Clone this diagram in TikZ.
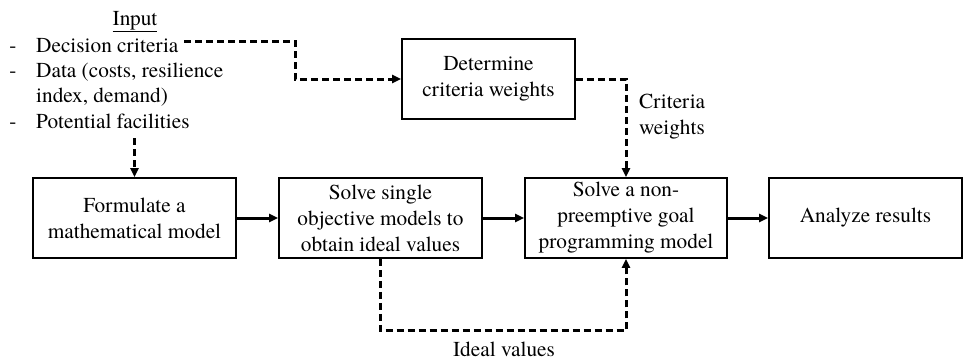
\documentclass[tikz,border=0pt]{standalone}
\usepackage{fontspec}
\setmainfont{TeX Gyre Termes}
\usetikzlibrary{arrows.meta}
\begin{document}
\begin{tikzpicture}[x=1pt,y=-1pt,
  font=\rmfamily\fontsize{21.3}{26}\selectfont,
  box/.style={draw,line width=1.6pt,align=center,minimum height=80pt,inner sep=2pt},
  sline/.style={line width=3pt,-{Triangle[length=9pt,width=8pt]}},
  dline/.style={line width=3pt,dash pattern=on 7pt off 4pt,-{Triangle[length=9pt,width=8pt]}},
  txt/.style={inner sep=0pt}]
\useasboundingbox (0,0) rectangle (963,360);
% input text
\node[txt,anchor=base] (inp) at (135,25) {\underline{Input}};
\node[txt,anchor=base] (d1) at (13,52) {-};
\node[txt,anchor=base west] (t1) at (36,52) {Decision criteria};
\node[txt,anchor=base] (d2) at (13,77) {-};
\node[txt,anchor=base west] (t2) at (36,77) {Data (costs, resilience};
\node[txt,anchor=base west] (t3) at (36,102) {index, demand)};
\node[txt,anchor=base] (d4) at (13,128) {-};
\node[txt,anchor=base west] (t4) at (36,128) {Potential facilities};
% boxes
\node[box,minimum width=203pt] (f) at (134.5,218) {Formulate a\\mathematical model};
\node[box,minimum width=203pt] (s) at (380.5,218) {Solve single\\objective models to\\obtain ideal values};
\node[box,minimum width=202pt] (g) at (626,218) {Solve a non-\\preemptive goal\\programming model};
\node[box,minimum width=193pt] (a) at (865.5,218) {Analyze results};
\node[box,minimum width=173pt] (det) at (488.5,79) {Determine\\criteria weights};
% labels
\node[txt,anchor=west,align=left] (cw) at (639,117) {Criteria\\weights};
\node[txt,anchor=base] (iv) at (504,356) {Ideal values};
% connectors
\coordinate (inA) at (184,41);
\coordinate (inB) at (134.5,138);
\draw[dline] (inA) -- (295,41) |- (det.west);
\draw[dline] (inB) -- (f.north);
\draw[dline] (det.east) -| (g.north);
\draw[dline] (s.south) -- ++(0,72) -| (g.south);
\draw[sline] (f.east) -- (s.west);
\draw[sline] (s.east) -- (g.west);
\draw[sline] (g.east) -- (a.west);
\end{tikzpicture}
\end{document}
